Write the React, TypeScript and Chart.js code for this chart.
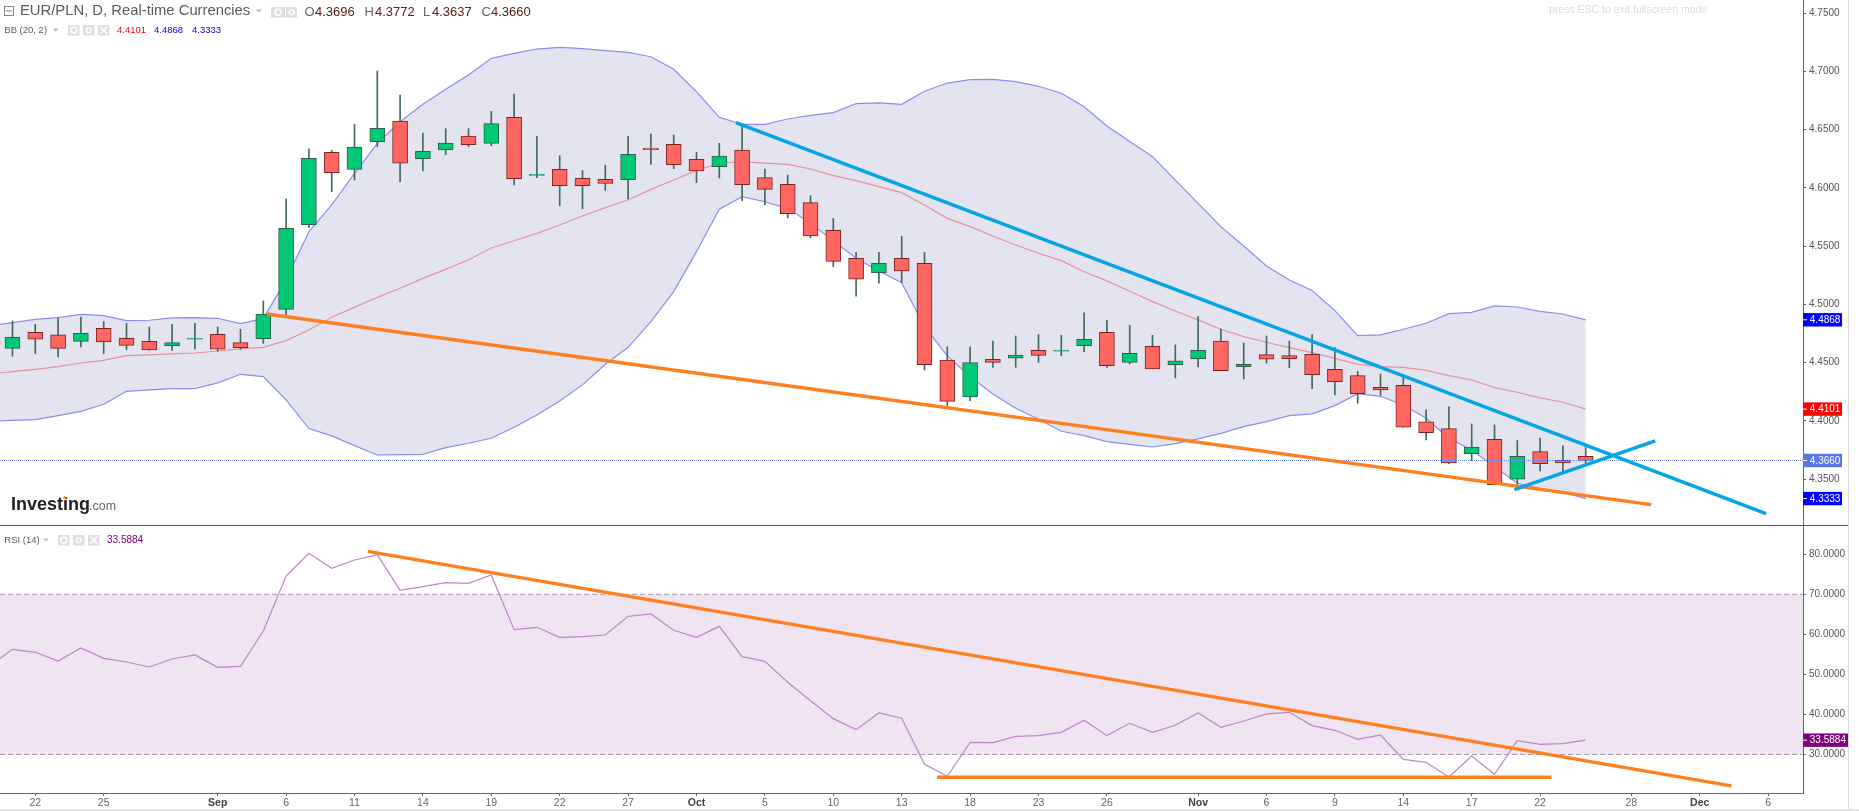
import React, { useEffect, useRef } from "react";
import { Chart, registerables } from "chart.js";

Chart.register(...registerables);

// Bars: x = trading-bar number, 0 = 21 Aug
const open = [4.4623,4.4761,4.4738,4.4683,4.4795,4.4709,4.4683,4.4646,4.4701,4.4744,4.4672,4.4706,4.4958,4.5685,4.6306,4.6160,4.6398,4.6575,4.6252,4.6326,4.6446,4.6383,4.6607,4.6108,4.6160,4.6083,4.6074,4.6071,4.6343,4.6375,4.6246,4.6183,4.6326,4.6089,4.6031,4.5874,4.5636,4.5396,4.5273,4.5396,4.5353,4.4523,4.4205,4.4529,4.4538,4.4606,4.4598,4.4646,4.4761,4.4503,4.4641,4.4483,4.4535,4.4686,4.4466,4.4569,4.4560,4.4572,4.4443,4.4389,4.4289,4.4306,4.3991,4.3934,4.3719,4.3842,4.3499,4.3736,4.3662,4.3696];
const high = [4.4858,4.4829,4.4887,4.4892,4.4852,4.4838,4.4807,4.4829,4.4838,4.4807,4.4787,4.5030,4.5905,4.6335,4.6323,4.6546,4.7004,4.6798,4.6472,4.6509,4.6509,4.6658,4.6807,4.6443,4.6277,4.6151,4.6194,4.6443,4.6463,4.6455,4.6306,4.6383,4.6546,4.6163,4.6111,4.5934,4.5739,4.5447,4.5447,4.5585,4.5447,4.4635,4.4635,4.4686,4.4729,4.4741,4.4735,4.4927,4.4864,4.4821,4.4735,4.4652,4.4898,4.4789,4.4669,4.4729,4.4686,4.4741,4.4629,4.4426,4.4403,4.4386,4.4094,4.4120,4.3974,4.3965,4.3831,4.3853,4.3785,4.3772];
const low = [4.4555,4.4578,4.4549,4.4635,4.4578,4.4612,4.4606,4.4606,4.4615,4.4598,4.4615,4.4666,4.4904,4.5659,4.5968,4.6068,4.6355,4.6054,4.6146,4.6286,4.6355,4.6363,4.6026,4.6088,4.5848,4.5822,4.5980,4.5905,4.6203,4.6166,4.6046,4.6086,4.5891,4.5854,4.5742,4.5570,4.5324,4.5070,4.5182,4.5187,4.4437,4.4114,4.4174,4.4460,4.4460,4.4503,4.4558,4.4595,4.4460,4.4489,4.4446,4.4369,4.4463,4.4432,4.4360,4.4495,4.4457,4.4277,4.4223,4.4151,4.4220,4.3945,4.3836,4.3633,4.3659,4.3453,4.3450,4.3570,4.3564,4.3637];
const close = [4.4718,4.4701,4.4623,4.4752,4.4678,4.4649,4.4609,4.4672,4.4709,4.4615,4.4629,4.4915,4.5653,4.6254,4.6131,4.6352,4.6512,4.6212,4.6315,4.6386,4.6372,4.6552,4.6080,4.6117,4.6020,4.6020,4.6040,4.6289,4.6329,4.6200,4.6146,4.6274,4.6028,4.5988,4.5779,4.5588,4.5370,4.5216,4.5353,4.5287,4.4483,4.4168,4.4500,4.4503,4.4566,4.4563,4.4606,4.4701,4.4475,4.4580,4.4446,4.4515,4.4606,4.4432,4.4486,4.4529,4.4535,4.4397,4.4337,4.4234,4.4266,4.3945,4.3899,4.3639,4.3776,4.3453,4.3696,4.3633,4.3639,4.3660];

// Indicators start one bar earlier (bar -1), left of the visible edge
const bbUpper = [4.4815,4.4844,4.4872,4.4887,4.4915,4.4904,4.4861,4.4864,4.4884,4.4887,4.4881,4.4835,4.4878,4.5213,4.5625,4.5854,4.6126,4.6383,4.6569,4.6718,4.6847,4.6970,4.7113,4.7156,4.7193,4.7208,4.7196,4.7179,4.7165,4.7127,4.7019,4.6827,4.6607,4.6546,4.6546,4.6592,4.6624,4.6647,4.6724,4.6730,4.6718,4.6830,4.6901,4.6930,4.6933,4.6913,4.6873,4.6813,4.6698,4.6532,4.6398,4.6269,4.6068,4.5868,4.5668,4.5502,4.5330,4.5210,4.5119,4.4947,4.4732,4.4738,4.4787,4.4838,4.4921,4.4932,4.4987,4.4978,4.4941,4.4918,4.4868];
const bbLower = [4.3995,4.4005,4.4011,4.4045,4.4082,4.4143,4.4254,4.4266,4.4277,4.4277,4.4326,4.4400,4.4380,4.4180,4.3934,4.3871,4.3788,4.3707,4.3710,4.3713,4.3770,4.3808,4.3851,4.3945,4.4051,4.4171,4.4309,4.4486,4.4632,4.4852,4.5110,4.5453,4.5817,4.5925,4.5882,4.5825,4.5696,4.5547,4.5396,4.5287,4.5187,4.4809,4.4558,4.4380,4.4231,4.4108,4.4014,4.3911,4.3873,4.3822,4.3799,4.3776,4.3805,4.3845,4.3893,4.3951,4.3994,4.4045,4.4060,4.4131,4.4234,4.4211,4.4137,4.4022,4.3851,4.3750,4.3607,4.3464,4.3421,4.3387,4.3333];
const bbMiddle = [4.4405,4.4423,4.4443,4.4466,4.4497,4.4520,4.4560,4.4566,4.4575,4.4583,4.4600,4.4618,4.4632,4.4689,4.4781,4.4890,4.4975,4.5061,4.5139,4.5224,4.5301,4.5384,4.5485,4.5547,4.5610,4.5682,4.5759,4.5831,4.5897,4.5988,4.6068,4.6149,4.6212,4.6226,4.6214,4.6203,4.6163,4.6106,4.6063,4.6011,4.5960,4.5854,4.5739,4.5668,4.5588,4.5510,4.5439,4.5376,4.5281,4.5202,4.5113,4.5024,4.4944,4.4867,4.4787,4.4724,4.4675,4.4629,4.4586,4.4537,4.4486,4.4466,4.4460,4.4434,4.4389,4.4351,4.4286,4.4246,4.4197,4.4160,4.4101];
const rsi = [52.1,56.27,55.52,53.35,56.6,54.02,53.1,51.86,53.85,54.85,51.77,52.02,60.84,74.57,80.23,76.48,78.56,79.89,70.99,71.9,72.9,72.74,74.82,61.17,61.76,59.26,59.43,59.84,64.5,65.09,61.01,59.26,62.0,54.43,53.27,48.03,43.45,38.96,36.22,40.38,39.05,27.57,24.57,33.05,32.97,34.55,34.72,35.55,38.55,34.72,37.8,35.55,37.3,40.38,36.8,38.38,40.13,40.54,37.22,36.05,33.8,34.88,28.81,28.06,24.4,29.64,25.07,33.47,32.56,32.72,33.5884];

// Hand-drawn trend lines: [bar, value] pairs
const blueLong = [[31.73,4.6561],[76.91,4.3203]];
const blueShort = [[65.87,4.3409],[72.05,4.3828]];
const orangePrice = [[11.16,4.4918],[71.87,4.3281]];
const orangeRsi = [[15.58,80.73],[75.39,22.16]];
const orangeRsiFlat = [[40.55,24.33],[67.5,24.33]];

// Axes
const xMin = -0.548;
const xMax = 78.53;
const priceMin = 4.3106;
const priceMax = 4.7614;
const rsiMin = 20.4;
const rsiMax = 87.05;
const priceTicks = [4.35,4.4,4.45,4.5,4.55,4.6,4.65,4.7,4.75];
const rsiTicks = [30,40,50,60,70,80];
const xTickBars = [1,4,9,12,15,18,21,24,27,30,33,36,39,42,45,48,52,55,58,61,64,67,71,74,77];
const xTickLabels = ["22","25","Sep","6","11","14","19","22","27","Oct","5","10","13","18","23","26","Nov","6","9","14","17","22","28","Dec","6"];
const monthLabels = ["Sep","Oct","Nov","Dec"];

// Readouts
const lastOpen = 4.3696, lastHigh = 4.3772, lastLow = 4.3637, lastClose = 4.366;
const bbMidLast = 4.4101, bbUpLast = 4.4868, bbLowLast = 4.3333, rsiLast = 33.5884;
const rsiBounds = [70, 30];

const FONT = '"Liberation Sans", Arial, sans-serif';
const xy = (arr: number[]) => arr.map((v, i) => ({ x: i - 1, y: v }));
const seg = (a: number[][]) => a.map(([x, y]) => ({ x, y }));
const trend = (a: number[][], color: string) => ({
  type: "line", data: seg(a), borderColor: color, borderWidth: 3.4, pointRadius: 0, order: 0, borderCapStyle: "butt", fill: false,
});

const tagged = (ctx: any, label: string, y: number, bg: string, x0: number, x1: number) => {
  ctx.fillStyle = bg;
  ctx.fillRect(x0, y - 6.7, x1 - x0, 13.4);
  ctx.fillStyle = "#fff";
  ctx.fillRect(x0, y - 0.5, 4, 1);
  ctx.font = `10px ${FONT}`;
  ctx.textAlign = "left";
  ctx.textBaseline = "middle";
  ctx.fillText(label, x0 + 6.8, y + 0.5);
};

const button = (ctx: any, x: number, y: number, w: number, h: number, kind: string) => {
  ctx.fillStyle = "#dedede";
  ctx.fillRect(x, y, w, h);
  ctx.strokeStyle = "#fff";
  ctx.lineWidth = 1.4;
  const cx = x + w / 2, cy = y + h / 2;
  ctx.beginPath();
  if (kind === "x") {
    ctx.moveTo(cx - 3.5, cy - 3.5); ctx.lineTo(cx + 3.5, cy + 3.5);
    ctx.moveTo(cx + 3.5, cy - 3.5); ctx.lineTo(cx - 3.5, cy + 3.5);
  } else {
    ctx.arc(cx, cy, kind === "eye" ? 3 : 2.4, 0, Math.PI * 2);
  }
  ctx.stroke();
};

const caret = (ctx: any, x: number, y: number) => {
  ctx.fillStyle = "#bbb";
  ctx.beginPath();
  ctx.moveTo(x - 3, y - 1.5); ctx.lineTo(x + 3, y - 1.5); ctx.lineTo(x, y + 1.5);
  ctx.closePath();
  ctx.fill();
};

const text = (ctx: any, s: string, x: number, y: number, font: string, color: string, align = "left") => {
  ctx.font = `${font} ${FONT}`;
  ctx.fillStyle = color;
  ctx.textAlign = align;
  ctx.textBaseline = "middle";
  ctx.fillText(s, x, y);
};

const pricePanePlugin = {
  id: "pricePane",
  afterDraw(chart: any) {
    const { ctx, scales } = chart;
    ctx.save();
    // frame
    ctx.fillStyle = "#555";
    ctx.fillRect(0, 525, 1848, 1);
    ctx.fillStyle = "#d8d8d8";
    ctx.fillRect(1848, 0, 1, 526);
    // header
    ctx.strokeStyle = "#888";
    ctx.lineWidth = 1;
    ctx.strokeRect(4.5, 6.5, 9, 9);
    ctx.beginPath(); ctx.moveTo(6, 11); ctx.lineTo(12, 11); ctx.stroke();
    text(ctx, "EUR/PLN, D, Real-time Currencies", 20, 11, "14.8px", "#5a5a5a");
    caret(ctx, 259, 11);
    button(ctx, 271, 7, 14, 10.5, "eye");
    button(ctx, 286, 7, 11, 10.5, "gear");
    const ohlc: [string, number, number, number][] = [
      ["O", lastOpen, 304.5, 315], ["H", lastHigh, 364.5, 375], ["L", lastLow, 423, 432], ["C", lastClose, 481.5, 491],
    ];
    ohlc.forEach(([k, v, kx, vx]) => {
      text(ctx, k, kx, 12, "13px", "#666");
      text(ctx, v.toFixed(4), vx, 12, "13px", "#5a1a1a");
    });
    text(ctx, "BB (20, 2)", 4.3, 30, "9.5px", "#5a5a5a");
    caret(ctx, 55.7, 30);
    button(ctx, 68, 25, 11.5, 10.5, "eye");
    button(ctx, 83, 25, 11.5, 10.5, "gear");
    button(ctx, 98, 25, 11.5, 10.5, "x");
    text(ctx, bbMidLast.toFixed(4), 117, 30.5, "9.5px", "#ff0000");
    text(ctx, bbUpLast.toFixed(4), 154, 30.5, "9.5px", "#0000ff");
    text(ctx, bbLowLast.toFixed(4), 192, 30.5, "9.5px", "#0000ff");
    text(ctx, "press ESC to exit fullscreen mode", 1549, 10.5, "10.5px", "#dcdcdc");
    // logo
    text(ctx, "Investing", 11, 505, "bold 18px", "#222");
    text(ctx, ".com", 89, 507, "12.5px", "#666");
    ctx.fillStyle = "#f5a623";
    ctx.beginPath(); ctx.arc(64.5, 497.5, 1.4, 0, Math.PI * 2); ctx.fill();
    // last-value tags
    const y = scales.y;
    const x0 = chart.chartArea.right;
    const tags: [number, string][] = [
      [bbUpLast, "#0000ff"], [bbMidLast, "#ff0000"], [lastClose, "#5b78e2"], [bbLowLast, "#0000ff"],
    ];
    tags.forEach(([v, c]) => tagged(ctx, v.toFixed(4), y.getPixelForValue(v), c, x0, 1842));
    ctx.restore();
  },
};

const rsiPanePlugin = {
  id: "rsiPane",
  afterDraw(chart: any) {
    const { ctx, scales } = chart;
    ctx.save();
    ctx.fillStyle = "#d8d8d8";
    ctx.fillRect(1848, 0, 1, 285);
    ctx.fillStyle = "#e6e6e6";
    ctx.fillRect(0, 283, 1859, 2);
    text(ctx, "RSI (14)", 4.3, 14, "9.5px", "#5a5a5a");
    caret(ctx, 46, 14);
    button(ctx, 58, 9, 11.5, 10.5, "eye");
    button(ctx, 73, 9, 11.5, 10.5, "gear");
    button(ctx, 88, 9, 11.5, 10.5, "x");
    text(ctx, rsiLast.toFixed(4), 107, 14.5, "10px", "#800080");
    tagged(ctx, rsiLast.toFixed(4), scales.y.getPixelForValue(rsiLast), "#800080", chart.chartArea.right, 1848);
    ctx.restore();
  },
};

const fitY = (w: number) => (a: any) => {
  a.width = w;
  a.paddingTop = 0;
  a.paddingBottom = 0;
};

const yAxis = (min: number, max: number, values: number[]) => ({
  type: "linear",
  position: "right",
  min,
  max,
  afterBuildTicks: (s: any) => { s.ticks = values.map((v) => ({ value: v })); },
  afterFit: fitY(45),
  border: { color: "#666", width: 1 },
  grid: { drawOnChartArea: false, tickLength: 3, color: "#666", tickWidth: 1 },
  ticks: {
    color: "#555",
    padding: 3,
    autoSkip: false,
    font: { family: FONT, size: 10 },
    callback: (v: number) => Number(v).toFixed(4),
  },
});

export default function App() {
  const priceRef = useRef<HTMLCanvasElement>(null);
  const rsiRef = useRef<HTMLCanvasElement>(null);

  useEffect(() => {
    const bars = open.map((_, i) => i);
    const isUp = (i: number) => close[i] >= open[i];

    const priceChart = new Chart(priceRef.current as HTMLCanvasElement, {
      type: "bar",
      data: {
        datasets: [
          trend(blueLong, "#04a4e6"),
          trend(blueShort, "#04a4e6"),
          trend(orangePrice, "#ff7f1f"),
          {
            type: "line",
            data: seg([[xMin, lastClose], [xMax, lastClose]]),
            borderColor: "#6a8bee",
            borderWidth: 1,
            borderDash: [1, 1],
            pointRadius: 0,
            order: 1,
            fill: false,
          },
          {
            type: "bar",
            grouped: false,
            data: bars.map((i) => ({ x: i, y: [open[i], close[i]] })),
            backgroundColor: bars.map((i) => (isUp(i) ? "#00c875" : "#ff6660")),
            borderColor: bars.map((i) => (isUp(i) ? "#2c5f4c" : "#7a2424")),
            borderWidth: 1,
            borderSkipped: false,
            barThickness: 15,
            order: 2,
          },
          {
            type: "bar",
            grouped: false,
            data: bars.map((i) => ({ x: i, y: [low[i], high[i]] })),
            backgroundColor: "#3f6a5c",
            borderWidth: 0,
            barThickness: 1,
            order: 3,
          },
          {
            type: "line",
            data: xy(bbMiddle),
            borderColor: "#e8919e",
            borderWidth: 1.2,
            pointRadius: 0,
            order: 4,
            fill: false,
          },
          {
            type: "line",
            data: xy(bbUpper),
            borderColor: "#8c8cf2",
            borderWidth: 1.2,
            pointRadius: 0,
            backgroundColor: "#e4e4f0",
            fill: "+1",
            order: 6,
          },
          {
            type: "line",
            data: xy(bbLower),
            borderColor: "#8c8cf2",
            borderWidth: 1.2,
            pointRadius: 0,
            order: 5,
            fill: false,
          },
        ] as any,
      },
      options: {
        animation: false,
        responsive: false,
        devicePixelRatio: 1,
        events: [],
        layout: { padding: { left: 0, top: 0, right: 11, bottom: 1 } },
        plugins: { legend: { display: false }, tooltip: { enabled: false } },
        scales: {
          x: { type: "linear", min: xMin, max: xMax, display: false, offset: false, grid: { offset: false } },
          y: yAxis(priceMin, priceMax, priceTicks),
        },
      } as any,
      plugins: [pricePanePlugin],
    });

    const rsiChart = new Chart(rsiRef.current as HTMLCanvasElement, {
      type: "line",
      data: {
        datasets: [
          trend(orangeRsi, "#ff7f1f"),
          trend(orangeRsiFlat, "#ff7f1f"),
          {
            data: xy(rsi),
            borderColor: "#c084cc",
            borderWidth: 1.2,
            pointRadius: 0,
            order: 1,
            fill: false,
          },
          {
            data: seg([[xMin, rsiBounds[0]], [xMax, rsiBounds[0]]]),
            borderColor: "#a897a8",
            borderWidth: 1,
            borderDash: [5, 3],
            pointRadius: 0,
            backgroundColor: "#f0e4f2",
            fill: "+1",
            order: 3,
          },
          {
            data: seg([[xMin, rsiBounds[1]], [xMax, rsiBounds[1]]]),
            borderColor: "#a897a8",
            borderWidth: 1,
            borderDash: [5, 3],
            pointRadius: 0,
            order: 2,
            fill: false,
          },
        ] as any,
      },
      options: {
        animation: false,
        responsive: false,
        devicePixelRatio: 1,
        events: [],
        layout: { padding: { left: 0, top: 0, right: 11, bottom: 0 } },
        plugins: { legend: { display: false }, tooltip: { enabled: false } },
        scales: {
          x: {
            type: "linear",
            min: xMin,
            max: xMax,
            afterBuildTicks: (s: any) => { s.ticks = xTickBars.map((v) => ({ value: v })); },
            afterFit: (a: any) => {
              a.height = 18;
              a.paddingLeft = 0;
              a.paddingRight = 0;
            },
            border: { color: "#666", width: 1 },
            grid: { drawOnChartArea: false, tickLength: 3, color: "#666" },
            ticks: {
              autoSkip: false,
              maxRotation: 0,
              padding: 1,
              color: (c: any) => (monthLabels.includes(xTickLabels[c.index]) ? "#444" : "#666"),
              font: (c: any) => ({
                family: FONT,
                size: 10.5,
                weight: monthLabels.includes(xTickLabels[c.index]) ? "bold" : "normal",
              }),
              callback: (_: number, i: number) => xTickLabels[i],
            },
          },
          y: yAxis(rsiMin, rsiMax, rsiTicks),
        },
      } as any,
      plugins: [rsiPanePlugin],
    });

    return () => {
      priceChart.destroy();
      rsiChart.destroy();
    };
  }, []);

  return (
    <div style={{ position: "fixed", left: 0, top: 0, width: 1859, height: 811, background: "#fff", overflow: "hidden" }}>
      <canvas ref={priceRef} width={1859} height={526} style={{ position: "absolute", left: 0, top: 0, width: 1859, height: 526, display: "block" }} />
      <canvas ref={rsiRef} width={1859} height={285} style={{ position: "absolute", left: 0, top: 526, width: 1859, height: 285, display: "block" }} />
    </div>
  );
}
